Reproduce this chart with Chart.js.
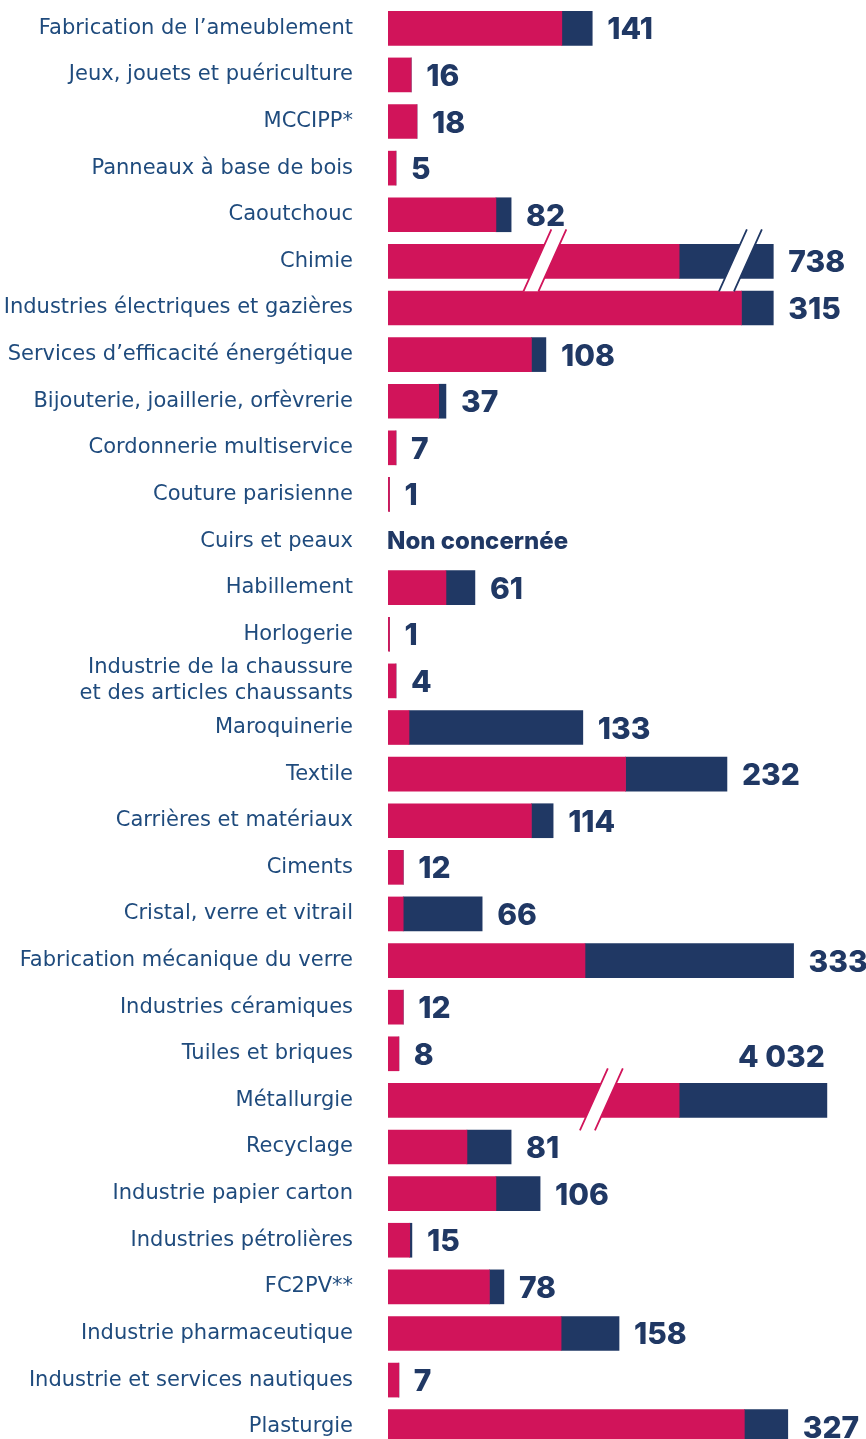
<!DOCTYPE html>
<html lang="fr">
<head>
<meta charset="utf-8">
<title>Effectifs par branche</title>
<script src="https://cdn.jsdelivr.net/npm/chart.js@4/dist/chart.umd.min.js"></script>
<style>
  html, body { margin: 0; padding: 0; background: #fff; overflow: hidden; }
  #wrap { position: relative; width: 866px; height: 1450px; }
</style>
</head>
<body>
<div id="wrap"><canvas id="chart_branches"></canvas></div>
<script>
"use strict"

// categories (top to bottom)
var branches = [
  "Fabrication de l\u2019ameublement",
  "Jeux, jouets et puériculture",
  "MCCIPP*",
  "Panneaux à base de bois",
  "Caoutchouc",
  "Chimie",
  "Industries électriques et gazières",
  "Services d\u2019efficacité énergétique",
  "Bijouterie, joaillerie, orfèvrerie",
  "Cordonnerie multiservice",
  "Couture parisienne",
  "Cuirs et peaux",
  "Habillement",
  "Horlogerie",
  ["Industrie de la chaussure", "et des articles chaussants"],
  "Maroquinerie",
  "Textile",
  "Carrières et matériaux",
  "Ciments",
  "Cristal, verre et vitrail",
  "Fabrication mécanique du verre",
  "Industries céramiques",
  "Tuiles et briques",
  "Métallurgie",
  "Recyclage",
  "Industrie papier carton",
  "Industries pétrolières",
  "FC2PV**",
  "Industrie pharmaceutique",
  "Industrie et services nautiques",
  "Plasturgie"
];

// pink part of each bar (as drawn, broken bars are shortened)
var partPink = [120, 16, 20, 5.5, 74.5, 201, 244, 99, 35, 5.5, 1, null, 40, 1, 5.5,
                14.5, 164, 99, 10.5, 10.5, 136, 10.5, 7.5, 201, 54.5, 74.5, 15, 70, 119.5, 7.5, 246];

// navy part of each bar
var partNavy = [21, 0, 0, 0, 10.5, 65, 22, 10, 5, 0, 0, null, 20, 0, 0,
                120, 70, 15, 0, 54.5, 144, 0, 0, 102, 30.5, 30.5, 1.5, 10, 40, 0, 30];

// totals written after the bars
var totals = ["141", "16", "18", "5", "82", "738", "315", "108", "37", "7", "1", "Non concernée", "61", "1", "4",
              "133", "232", "114", "12", "66", "333", "12", "8", "4 032", "81", "106", "15", "78", "158", "7", "327"];

// bars drawn with a break: row and value where the cut sits
var breaks = [
  { row: 5, at: 108, part: 0 },
  { row: 5, at: 243, part: 1 },
  { row: 23, at: 147, part: 0 }
];

// total written above the bar instead of after it
var labelAbove = [23];

var PINK = '#d1145a';
var NAVY = '#203864';
var TEXT = '#1f4b7d';

var valueLabels = {
  id: 'valueLabels',
  afterDatasetsDraw: function(chart) {
    var ctx = chart.ctx;
    var area = chart.chartArea;
    var last = chart.getDatasetMeta(1);
    var yScale = chart.scales.y;
    var xScale = chart.scales.x;

    // breaks
    breaks.forEach(function(b) {
      var yc = yScale.getPixelForValue(b.row);
      var xc = xScale.getPixelForValue(b.at);
      var top = yc - 32, bottom = yc + 30;
      var slope = 0.45, half = 7.5;
      var xt = xc + (yc - top) * slope, xb = xc - (bottom - yc) * slope;
      ctx.save();
      ctx.fillStyle = '#ffffff';
      ctx.beginPath();
      ctx.moveTo(xt - half, top);
      ctx.lineTo(xt + half, top);
      ctx.lineTo(xb + half, bottom);
      ctx.lineTo(xb - half, bottom);
      ctx.closePath();
      ctx.fill();
      ctx.strokeStyle = b.part === 0 ? PINK : NAVY;
      ctx.lineWidth = 1.8;
      ctx.beginPath();
      ctx.moveTo(xt - half, top); ctx.lineTo(xb - half, bottom);
      ctx.moveTo(xt + half, top); ctx.lineTo(xb + half, bottom);
      ctx.stroke();
      ctx.restore();
    });

    ctx.save();
    ctx.fillStyle = NAVY;
    ctx.textBaseline = 'middle';
    totals.forEach(function(t, i) {
      var el = last.data[i];
      var yc = yScale.getPixelForValue(i);
      if (partPink[i] === null) {
        ctx.font = '800 24px Inter';
        ctx.textAlign = 'left';
        ctx.fillText(t, area.left - 1, yc + 1);
        return;
      }
      ctx.font = '800 30px Inter';
      if (labelAbove.indexOf(i) >= 0) {
        ctx.textAlign = 'right';
        ctx.fillText(t, el.x - 2, yc - 42);
      } else {
        ctx.textAlign = 'left';
        ctx.fillText(t, el.x + 15, yc + 2);
      }
    });
    ctx.restore();
  }
};

var ctx = document.getElementById('chart_branches').getContext('2d');

var myChart = new Chart(ctx, {
  type: 'bar',
  data: {
    labels: branches,
    datasets: [{
      label: 'Part 1',
      data: partPink,
      backgroundColor: PINK,
      borderWidth: 0,
      barThickness: 34
    },
    {
      label: 'Part 2',
      data: partNavy,
      backgroundColor: NAVY,
      borderWidth: 0,
      barThickness: 34
    }]
  },
  options: {
    indexAxis: 'y',
    responsive: true,
    maintainAspectRatio: false,
    animation: false,
    layout: { padding: { top: 5, left: 0, right: 0, bottom: 0 } },
    plugins: {
      legend: { display: false },
      tooltip: { enabled: false }
    },
    scales: {
      x: {
        stacked: true,
        display: false,
        min: 0,
        max: 330
      },
      y: {
        stacked: true,
        grid: { display: false },
        border: { display: false },
        afterFit: function(scale) {
          scale.width = 388;
          scale.paddingTop = 0;
          scale.paddingBottom = 0;
        },
        ticks: {
          color: TEXT,
          padding: 27,
          autoSkip: false,
          font: { family: 'DejaVu Sans', size: 21, lineHeight: 1.25 }
        }
      }
    }
  },
  plugins: [valueLabels]
});
</script>
</body>
</html>
